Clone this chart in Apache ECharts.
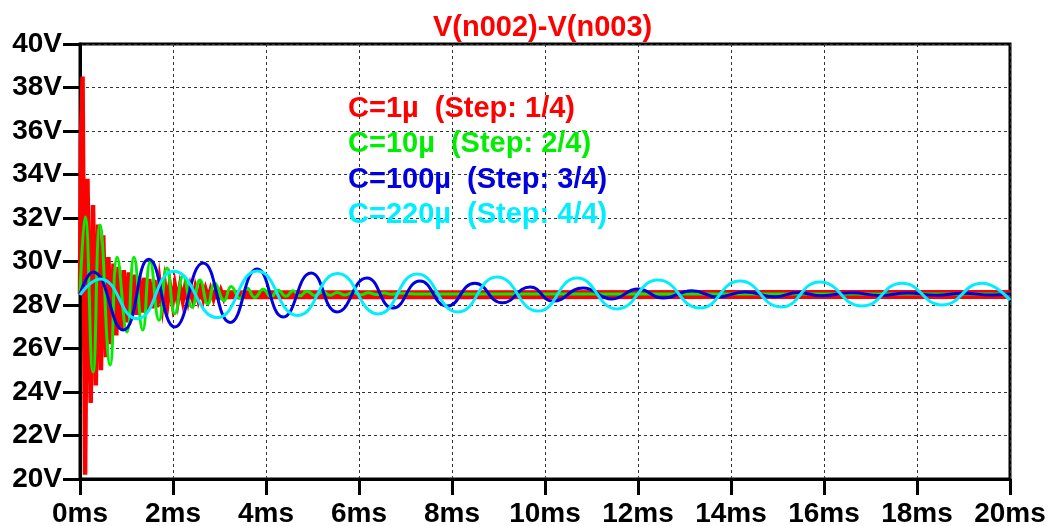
<!DOCTYPE html>
<html>
<head>
<meta charset="utf-8">
<script src="https://cdn.jsdelivr.net/npm/echarts@6/dist/echarts.min.js"></script>
<style>
html,body{margin:0;padding:0;background:#fff;}
#chart{width:1048px;height:526px;}
</style>
</head>
<body>
<div id="chart"></div>
<script>
// ---- data (time in ms, voltage in V) ----
const chartTitle = 'V(n002)-V(n003)';
const stepNames = ['C=1µ  (Step: 1/4)', 'C=10µ  (Step: 2/4)', 'C=100µ  (Step: 3/4)', 'C=220µ  (Step: 4/4)'];
const stepColors = ['#ff0000', '#00ee00', '#0000e0', '#00eeff'];
const xUnit = 'ms';
const yUnit = 'V';

const redTransient = [
  [0, 28.5], [0.02, 35.5], [0.055, 38.5], [0.11, 20.2], [0.16, 33.8], [0.23, 23.5], [0.28, 32.6],
  [0.34, 24.3], [0.39, 31.7], [0.45, 25.0], [0.5, 31.2], [0.56, 25.6], [0.61, 30.2], [0.67, 26.2],
  [0.72, 29.9], [0.78, 26.6], [0.83, 29.75], [0.89, 26.9], [0.94, 29.6], [1.0, 27.2], [1.05, 29.5],
  [1.11, 27.4], [1.16, 29.4], [1.22, 27.55], [1.27, 29.3], [1.33, 27.65], [1.38, 29.25], [1.44, 27.75],
  [1.49, 29.2], [1.55, 27.85], [1.6, 29.15], [1.66, 27.9], [1.71, 29.05], [1.77, 28.0], [1.82, 29.0],
  [1.88, 28.05], [1.93, 28.95], [1.99, 28.1], [2.04, 28.9], [2.1, 28.15], [2.15, 28.85], [2.21, 28.2],
  [2.26, 28.82], [2.32, 28.22], [2.37, 28.8], [2.43, 28.25], [2.48, 28.78], [2.54, 28.27], [2.59, 28.75],
  [2.65, 28.28], [2.7, 28.72], [2.76, 28.3], [2.81, 28.7], [2.87, 28.3], [2.92, 28.68], [2.98, 28.32],
  [3.03, 28.66], [3.09, 28.32], [3.14, 28.65]
];
const redRippleBand = [[2.0, 28.47], [8, 28.47], [14, 28.48], [20, 28.48]];

const greenValues = [
  [0, 28.5], [0.11, 32.05], [0.28, 24.92], [0.43, 31.68], [0.65, 25.24], [0.8, 30.2], [1.01, 26.76],
  [1.16, 30.2], [1.35, 26.85], [1.51, 29.98], [1.7, 27.3], [1.87, 29.7], [2.04, 27.6], [2.22, 29.35],
  [2.41, 27.9], [2.58, 29.15], [2.75, 28.05], [2.9, 29.0], [3.1, 28.2], [3.25, 28.85], [3.44, 28.3],
  [3.59, 28.78], [3.76, 28.35], [3.94, 28.72], [4.11, 28.38], [4.26, 28.68], [4.43, 28.4], [4.58, 28.65],
  [4.73, 28.42], [4.88, 28.63], [5.05, 28.44], [5.23, 28.6], [5.38, 28.45], [5.53, 28.58], [5.7, 28.46],
  [5.87, 28.57], [6.04, 28.47], [6.2, 28.56], [6.37, 28.48], [6.54, 28.55], [6.7, 28.49], [6.87, 28.54],
  [7.2, 28.51], [20, 28.51]
];

const blueValues = [
  [0, 28.5], [0.28, 29.52], [0.93, 26.85], [1.48, 30.1], [2.04, 26.99], [2.65, 29.93], [3.23, 27.2],
  [3.81, 29.66], [4.37, 27.45], [4.97, 29.47], [5.53, 27.68], [6.17, 29.24], [6.73, 27.86], [7.31, 29.1],
  [7.89, 27.95], [8.49, 29.0], [9.08, 28.1], [9.68, 28.83], [10.17, 28.18], [10.82, 28.78], [11.44, 28.28],
  [12.0, 28.74], [12.54, 28.32], [13.16, 28.66], [13.72, 28.37], [14.3, 28.6], [14.95, 28.38], [15.45, 28.57],
  [15.95, 28.42], [16.6, 28.56], [17.2, 28.44], [17.8, 28.55], [18.4, 28.45], [19.0, 28.54], [19.6, 28.46],
  [20, 28.52]
];

const cyanValues = [
  [0, 28.46], [0.43, 29.2], [1.23, 27.37], [2.02, 29.55], [2.95, 27.42], [3.81, 29.56], [4.68, 27.52],
  [5.54, 29.45], [6.41, 27.59], [7.25, 29.43], [8.13, 27.68], [8.97, 29.29], [9.85, 27.72], [10.69, 29.24],
  [11.55, 27.82], [12.43, 29.15], [13.33, 27.86], [14.19, 29.1], [15.08, 27.91], [15.91, 29.06],
  [16.82, 27.95], [17.68, 29.0], [18.54, 28.0], [19.4, 29.0], [20, 28.22]
];

// ---- chart ----
const FONT = "'Liberation Sans', Arial, sans-serif";
const chart = echarts.init(document.getElementById('chart'), null, {renderer: 'canvas'});

const lineSeries = (name, data, color, width, smooth, z) => ({
  name, type: 'line', data, smooth, showSymbol: false, symbol: 'none',
  lineStyle: {color, width, cap: 'butt', join: 'miter'}, itemStyle: {color},
  z, clip: true, animation: false
});

chart.setOption({
  backgroundColor: '#ffffff',
  animation: false,
  title: {
    text: chartTitle, left: 433, top: 13, padding: 0,
    textStyle: {color: '#ff0000', fontSize: 29, fontWeight: 'bold', fontFamily: FONT}
  },
  legend: {
    orient: 'vertical', left: 343, top: 94, padding: 0, itemGap: 6.5,
    icon: 'none', itemWidth: 0, itemHeight: 0, selectedMode: false,
    textStyle: {fontSize: 29, fontWeight: 'bold', fontFamily: FONT},
    data: stepNames.map((n, i) => ({name: n, textStyle: {color: stepColors[i]}}))
  },
  grid: {
    left: 80, right: 38, top: 44, bottom: 47,
    containLabel: false, outerBoundsMode: 'none',
    show: true, borderColor: '#000', borderWidth: 3, backgroundColor: '#fff'
  },
  xAxis: {
    type: 'value', min: 0, max: 20, interval: 2,
    axisLine: {onZero: false, lineStyle: {color: '#000', width: 3}},
    axisTick: {show: true, inside: false, length: 16, lineStyle: {color: '#000', width: 3}},
    axisLabel: {formatter: '{value}' + xUnit, color: '#000', fontSize: 28, fontWeight: 'bold', fontFamily: FONT, margin: 21},
    splitLine: {show: true, lineStyle: {color: '#333', width: 1, type: [3, 3]}}
  },
  yAxis: {
    type: 'value', min: 20, max: 40, interval: 2,
    axisLine: {show: true, onZero: false, lineStyle: {color: '#000', width: 3}},
    axisTick: {show: true, inside: false, length: 17, lineStyle: {color: '#000', width: 3}},
    axisLabel: {formatter: '{value}' + yUnit, color: '#000', fontSize: 28, fontWeight: 'bold', fontFamily: FONT, margin: 18},
    splitLine: {show: true, lineStyle: {color: '#333', width: 1, type: [3, 3]}}
  },
  series: [
    lineSeries(stepNames[0], redRippleBand, stepColors[0], 9, false, 2),
    lineSeries(stepNames[0], redTransient, stepColors[0], 4.5, false, 2),
    lineSeries(stepNames[1], greenValues, stepColors[1], 3, 0.5, 3),
    lineSeries(stepNames[2], blueValues, stepColors[2], 3, 0.5, 4),
    lineSeries(stepNames[3], cyanValues, stepColors[3], 3, 0.5, 5)
  ]
});
</script>
</body>
</html>
